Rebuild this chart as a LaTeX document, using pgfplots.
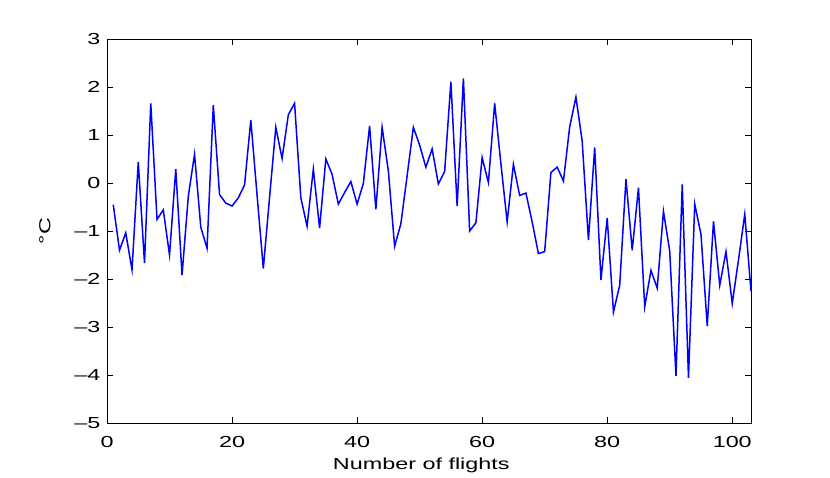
\documentclass[border=0pt]{standalone}
\usepackage{pgfplots}
\pgfplotsset{compat=1.18}
\usepackage{fontspec}
\setmainfont{Liberation Sans}[FakeStretch=1.46]

\begin{document}
\begin{tikzpicture}[x=1pt,y=1pt]
\path[use as bounding box] (0,0) rectangle (830,478);
\begin{axis}[
    at={(107pt,55pt)}, anchor=south west,
    scale only axis, width=644pt, height=384pt,
    xmin=0, xmax=103, ymin=-5, ymax=3,
    xtick={0,20,...,100}, xticklabels={0,20,40,60,80,100},
    ytick={-5,...,3}, yticklabels={–5,–4,–3,–2,–1,0,1,2,3},
    tick align=inside, major tick length=6pt,
    xtick pos=both, ytick pos=both,
    tick label style={font=\fontsize{16}{19}\selectfont},
    xticklabel style={yshift=-10pt},
    yticklabel style={xshift=-3pt},
    label style={font=\fontsize{16}{19}\selectfont},
    xlabel={Number of flights}, ylabel={°C},
    xlabel style={at={(axis description cs:0.488,-0.1224)}, anchor=base},
    ylabel style={at={(axis description cs:-0.0963,0.5)}, anchor=center},
    axis line style={line width=0.8pt},
    tick style={line width=0.8pt, black},
]
\addplot[blue, line width=1.5pt, mark=none] coordinates {
(1,-0.45) (2,-1.40) (3,-1.04) (4,-1.81) (5,0.44) (6,-1.67) (7,1.66) (8,-0.76) (9,-0.56) (10,-1.50)
(11,0.29) (12,-1.92) (13,-0.28) (14,0.60) (15,-0.92) (16,-1.36) (17,1.62) (18,-0.24) (19,-0.42) (20,-0.48)
(21,-0.31) (22,-0.04) (23,1.31) (24,-0.25) (25,-1.78) (26,-0.30) (27,1.16) (28,0.51) (29,1.42) (30,1.66)
(31,-0.31) (32,-0.90) (33,0.29) (34,-0.94) (35,0.50) (36,0.18) (37,-0.44) (38,-0.20) (39,0.03) (40,-0.44)
(41,-0.01) (42,1.19) (43,-0.55) (44,1.16) (45,0.25) (46,-1.32) (47,-0.85) (48,0.15) (49,1.16) (50,0.79)
(51,0.33) (52,0.71) (53,-0.02) (54,0.24) (55,2.11) (56,-0.48) (57,2.18) (58,-1.00) (59,-0.83) (60,0.53)
(61,0.01) (62,1.66) (63,0.40) (64,-0.81) (65,0.39) (66,-0.26) (67,-0.21) (68,-0.81) (69,-1.47) (70,-1.43)
(71,0.22) (72,0.33) (73,0.04) (74,1.17) (75,1.79) (76,0.87) (77,-1.19) (78,0.74) (79,-2.02) (80,-0.73)
(81,-2.69) (82,-2.13) (83,0.08) (84,-1.40) (85,-0.10) (86,-2.58) (87,-1.82) (88,-2.19) (89,-0.59) (90,-1.42)
(91,-4.02) (92,-0.03) (93,-4.06) (94,-0.44) (95,-1.07) (96,-2.98) (97,-0.80) (98,-2.13) (99,-1.43) (100,-2.51)
(101,-1.60) (102,-0.65) (103,-2.25)
};
\end{axis}
\end{tikzpicture}
\end{document}
